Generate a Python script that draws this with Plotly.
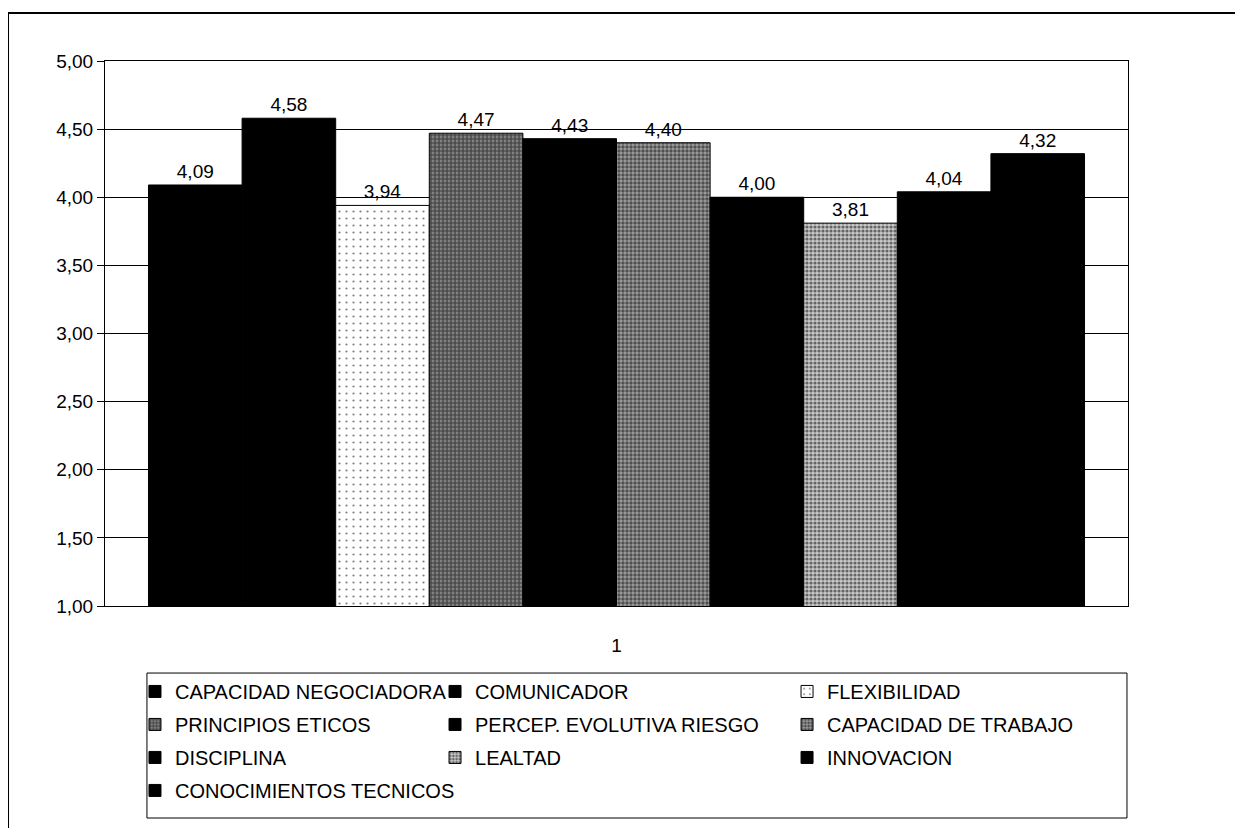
import plotly.graph_objects as go

categories = ["1"]
series_names = [
    "CAPACIDAD NEGOCIADORA", "COMUNICADOR", "FLEXIBILIDAD",
    "PRINCIPIOS ETICOS", "PERCEP. EVOLUTIVA RIESGO", "CAPACIDAD DE TRABAJO",
    "DISCIPLINA", "LEALTAD", "INNOVACION", "CONOCIMIENTOS TECNICOS",
]
series_values = [4.09, 4.58, 3.94, 4.47, 4.43, 4.40, 4.00, 3.81, 4.04, 4.32]
y_ticks = [1.0, 1.5, 2.0, 2.5, 3.0, 3.5, 4.0, 4.5, 5.0]

# legend column assignment (reference shows 3 columns, filled row by row)
legend_of = ["legend", "legend2", "legend3",
             "legend", "legend2", "legend3",
             "legend", "legend2", "legend3",
             "legend"]

styles = {
    "FLEXIBILIDAD": dict(color="white", pattern=dict(shape=".", fgcolor="black", bgcolor="white", size=7, solidity=0.08)),
    "PRINCIPIOS ETICOS": dict(color="#333333", pattern=dict(shape="+", fgcolor="black", bgcolor="#808080", size=4, solidity=0.5)),
    "CAPACIDAD DE TRABAJO": dict(color="#444444", pattern=dict(shape=".", fgcolor="black", bgcolor="#a0a0a0", size=4, solidity=0.6)),
    "LEALTAD": dict(color="#888888", pattern=dict(shape=".", fgcolor="black", bgcolor="#c8c8c8", size=4, solidity=0.5)),
}

FONT = "Arial, Liberation Sans, sans-serif"

fig = go.Figure()
for i, (name, val) in enumerate(zip(series_names, series_values)):
    st = styles.get(name, dict(color="black"))
    marker = dict(color=st["color"], line=dict(color="black", width=1))
    if "pattern" in st:
        marker["pattern"] = st["pattern"]
    fig.add_trace(go.Bar(
        x=categories, y=[val], name=name,
        marker=marker,
        texttemplate="%{y:.2f}", textposition="outside",
        textfont=dict(family=FONT, size=19, color="black"),
        cliponaxis=False,
        legend=legend_of[i], legendgroup=name,
    ))

leg_common = dict(
    orientation="v", yanchor="top", xanchor="left",
    font=dict(family=FONT, size=20, color="black"),
    bgcolor="rgba(0,0,0,0)", borderwidth=0,
    traceorder="grouped", tracegroupgap=4,
)

fig.update_layout(
    width=1235, height=820,
    paper_bgcolor="white", plot_bgcolor="white",
    margin=dict(l=97, r=115, t=53, b=222),
    separators=",.",
    barmode="group", bargap=0.085, bargroupgap=0,
    font=dict(family=FONT, size=19, color="black"),
    xaxis=dict(
        type="category", showgrid=False, showline=True, linecolor="black", linewidth=1,
        mirror=True, ticks="", ticklabelstandoff=22,
        tickfont=dict(family=FONT, size=19, color="black"),
    ),
    yaxis=dict(
        range=[1, 5], tickvals=y_ticks, tickformat=".2f",
        showgrid=True, gridcolor="black", gridwidth=1,
        showline=True, linecolor="black", linewidth=1, mirror=True,
        ticks="outside", ticklen=7, tickcolor="black",
        tickfont=dict(family=FONT, size=19, color="black"),
        zeroline=False,
    ),
    legend=dict(x=0.0293, y=-0.121, **leg_common),
    legend2=dict(x=0.3226, y=-0.121, **leg_common),
    legend3=dict(x=0.6667, y=-0.121, **leg_common),
    shapes=[
        # legend frame
        dict(type="rect", xref="paper", yref="paper", x0=0.041, x1=0.999, y0=-0.389, y1=-0.123,
             line=dict(color="black", width=1), fillcolor="rgba(0,0,0,0)", layer="below"),
        # outer chart frame (left and top edges)
        dict(type="line", xref="paper", yref="paper", x0=-0.0948, x1=-0.0948, y0=-0.43, y1=1.088,
             line=dict(color="black", width=2)),
        dict(type="line", xref="paper", yref="paper", x0=-0.0948, x1=1.13, y0=1.088, y1=1.088,
             line=dict(color="black", width=2)),
    ],
    showlegend=True,
)

fig.write_html("out.html")
